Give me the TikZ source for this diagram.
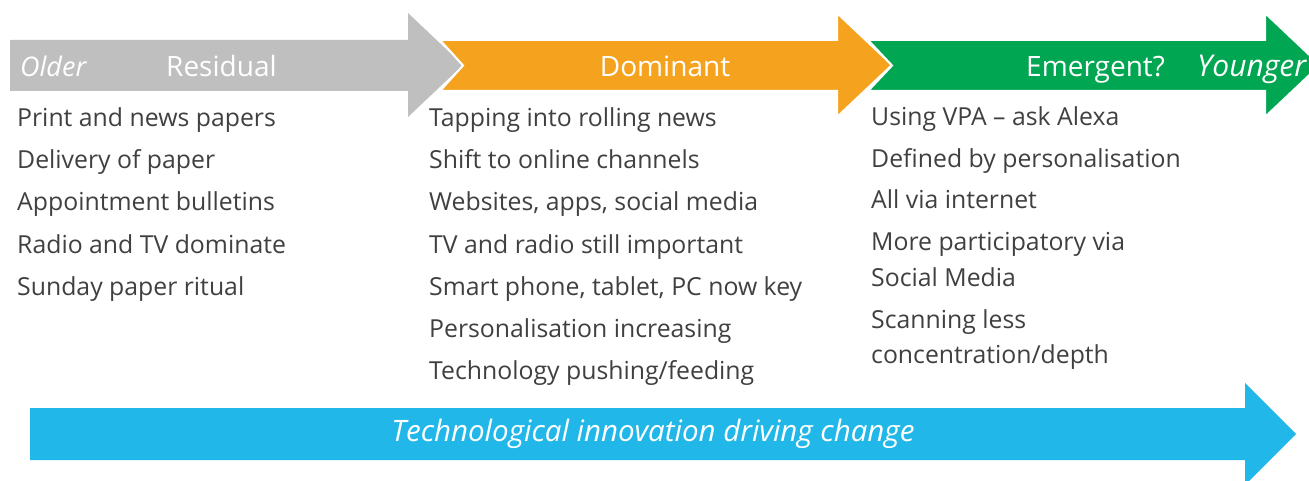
\documentclass[tikz,border=0pt]{standalone}
\usepackage{fontspec}
\setmainfont{Open Sans}
\definecolor{residualgray}{HTML}{BFBFBF}
\definecolor{dominantorange}{HTML}{F5A31F}
\definecolor{emergentgreen}{HTML}{00A651}
\definecolor{techblue}{HTML}{21B8E9}
\definecolor{itemgray}{HTML}{404040}
\begin{document}
\begin{tikzpicture}
            [
                x=1pt, y=-1pt,
                phase/.style={draw=white, line width=2pt},
                heading/.style={text=white, anchor=base west, inner sep=0pt, font=\fontsize{28}{33}\selectfont},
                item/.style={text=itemgray, anchor=base west, inner sep=0pt, font=\fontsize{24.8}{30}\selectfont}
            ]
            \useasboundingbox (0,0) rectangle (1309,481);
            \clip (0,0) rectangle (1309,481);
            % the three phase arrows
            \fill[residualgray] (10,40) -- (408,40) -- (408,13) -- (463,65) -- (408,117) -- (408,91) -- (10,91) -- cycle;
            \filldraw[phase, fill=dominantorange] (440,40) -- (837,40) -- (837,13) -- (892,65) -- (837,117) -- (837,91) -- (440,91) -- (463,65.5) -- cycle;
            \filldraw[phase, fill=emergentgreen] (868,40) -- (1265,40) -- (1265,13) -- (1320,65) -- (1265,117) -- (1265,91) -- (868,91) -- (892,65.5) -- cycle;
            % technology arrow
            \fill[techblue] (30,408) -- (1245,408) -- (1245,383) -- (1296,434) -- (1245,485) -- (1245,460) -- (30,460) -- cycle;

            \node[heading, font=\fontsize{27}{32}\selectfont\itshape] (older) at (20,77) {Older};
            \node[heading] (residual) at (166,77) {Residual};
            \node[heading, anchor=base] (dominant) at (665,77) {Dominant};
            \node[heading] (emergent) at (1026,77) {Emergent?};
            \node[heading, font=\fontsize{30}{35}\selectfont\itshape] (younger) at (1197,77) {Younger};

            \foreach \txt [count=\i] in {Print and news papers, Delivery of paper,
                Appointment bulletins, Radio and TV dominate, Sunday paper ritual}
                \node[item] (res\i) at (17,{85+42*\i}) {\txt};
            \foreach \txt [count=\i] in {Tapping into rolling news, Shift to online channels,
                {Websites, apps, social media}, TV and radio still important,
                {Smart phone, tablet, PC now key}, Personalisation increasing,
                Technology pushing/feeding}
                \node[item] (dom\i) at (429,{85+42*\i}) {\txt};

            \node[item] (em1) at (871,126) {Using VPA – ask Alexa};
            \node[item] (em2) at (871,168) {Defined by personalisation};
            \node[item] (em3) at (871,209) {All via internet};
            \node[item] (em4) at (871,251) {More participatory via};
            \node[item] (em5) at (871,286) {Social Media};
            \node[item] (em6) at (871,328) {Scanning less};
            \node[item] (em7) at (871,363) {concentration/depth};

            \node[text=white, font=\fontsize{29.5}{34}\selectfont\itshape] (tech) at (653,434) {Technological innovation driving change};
\end{tikzpicture}
\end{document}
